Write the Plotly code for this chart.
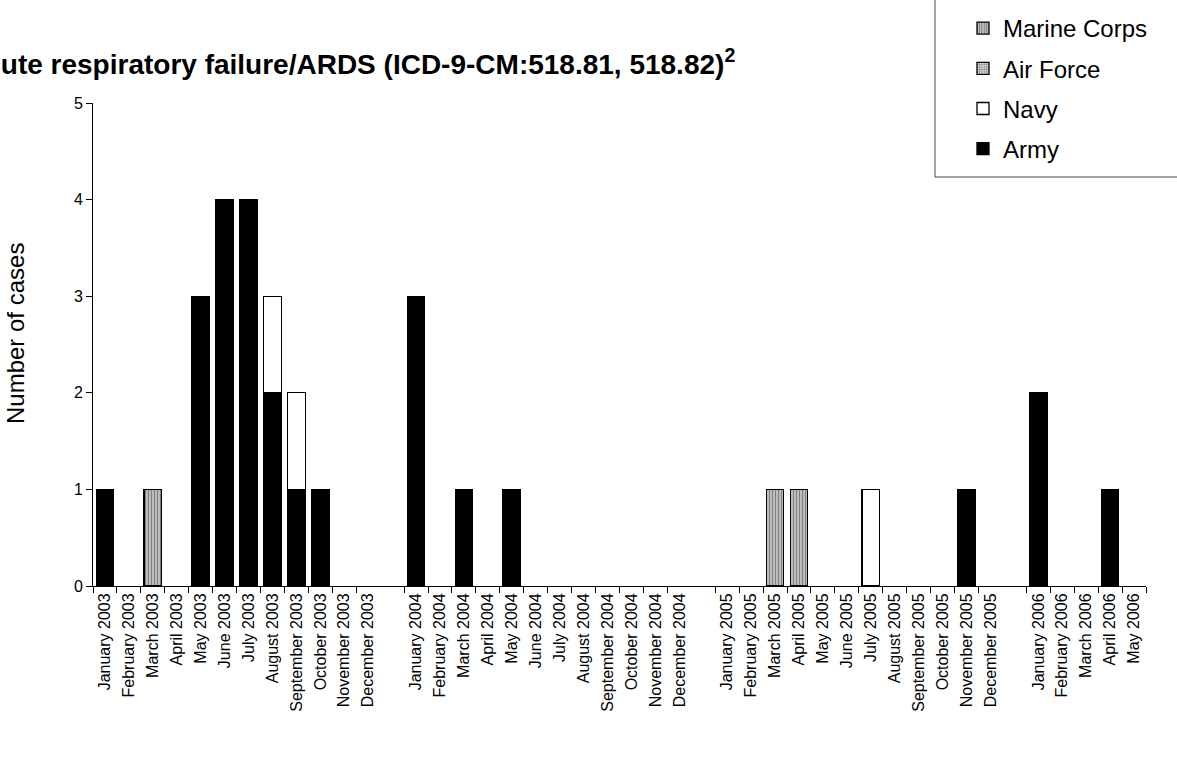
import plotly.graph_objects as go

months = ["January", "February", "March", "April", "May", "June", "July",
          "August", "September", "October", "November", "December"]
categories = ([f"{m} 2003" for m in months] + [" "] +
              [f"{m} 2004" for m in months] + ["  "] +
              [f"{m} 2005" for m in months] + ["   "] +
              [f"{m} 2006" for m in months[:5]])
tick_labels = [c for c in categories if c.strip()]

# values per category (44 categories, including blank spacer slots); None = no cases
army = [1, None, None, None, 3, 4, 4, 2, 1, 1, None, None, None,
        3, None, 1, None, 1, None, None, None, None, None, None, None, None,
        None, None, None, None, None, None, None, None, None, None, 1, None, None,
        2, None, None, 1, None]
navy = [None, None, None, None, None, None, None, 1, 1, None, None, None, None,
        None, None, None, None, None, None, None, None, None, None, None, None, None,
        None, None, None, None, None, None, 1, None, None, None, None, None, None,
        None, None, None, None, None]
air_force = [None] * 44
marine_corps = [None, None, 1, None, None, None, None, None, None, None, None, None, None,
                None, None, None, None, None, None, None, None, None, None, None, None, None,
                None, None, 1, 1, None, None, None, None, None, None, None, None, None,
                None, None, None, None, None]

FONT = "Arial, Liberation Sans, sans-serif"
W, H = 1177, 761
L, R, T, B = 93, 31, 103, 175
pw, ph = W - L - R, H - T - B


def px_x(x):
    return (x - L) / pw


def px_y(y):
    return (H - B - y) / ph


line = dict(color="black", width=1.3)
fig = go.Figure()
fig.add_trace(go.Bar(x=categories, y=army, name="Army", legendgroup="a", legendrank=4,
                     marker=dict(color="black", line=line)))
fig.add_trace(go.Bar(x=categories, y=navy, name="Navy", legendgroup="n", legendrank=3,
                     marker=dict(color="white", line=line)))
fig.add_trace(go.Bar(x=categories, y=air_force, name="Air Force", legendgroup="f", legendrank=2,
                     marker=dict(color="#cccccc", line=line,
                                 pattern=dict(shape="+", fgcolor="#333333",
                                              bgcolor="#dddddd", size=3, solidity=0.45))))
fig.add_trace(go.Bar(x=categories, y=marine_corps, name="Marine Corps", legendgroup="m", legendrank=1,
                     marker=dict(color="#bbbbbb", line=line,
                                 pattern=dict(shape="|", fgcolor="#333333",
                                              bgcolor="#c8c8c8", size=3, solidity=0.45))))

fig.update_layout(
    width=W, height=H,
    barmode="stack", bargap=0.27,
    margin=dict(l=L, r=R, t=T, b=B, autoexpand=False),
    paper_bgcolor="white", plot_bgcolor="white",
    font=dict(family=FONT, color="black", size=16),
    showlegend=True,
    legend=dict(x=px_x(963), y=px_y(6), xanchor="left", yanchor="top",
                traceorder="grouped", font=dict(size=24, family=FONT),
                tracegroupgap=6, bgcolor="rgba(0,0,0,0)", borderwidth=0),
    xaxis=dict(type="category", tickson="boundaries", ticks="outside", ticklen=6,
               tickmode="array", tickvals=tick_labels, ticktext=tick_labels,
               tickcolor="black", showline=True, linecolor="black", linewidth=1,
               tickangle=-90, tickfont=dict(size=16, family=FONT),
               showgrid=False, zeroline=False, range=[-0.5, 43.5]),
    yaxis=dict(range=[0, 5], dtick=1, ticks="outside", ticklen=6, tickcolor="black",
               showline=True, linecolor="black", linewidth=1, showgrid=False,
               zeroline=False, tickfont=dict(size=16, family=FONT)),
    shapes=[dict(type="rect", xref="paper", yref="paper",
                 x0=px_x(935), x1=px_x(1190), y0=px_y(177), y1=px_y(-2),
                 line=dict(color="#444444", width=1), fillcolor="rgba(0,0,0,0)")],
    annotations=[
        dict(text="<b>Acute respiratory failure/ARDS (ICD-9-CM:518.81, 518.82)<sup>2</sup></b>",
             xref="paper", yref="paper", x=px_x(-37), y=px_y(82),
             xanchor="left", yanchor="bottom", showarrow=False,
             font=dict(size=28, family=FONT, color="black")),
        dict(text="Number of cases", textangle=-90,
             xref="paper", yref="paper", x=px_x(15), y=px_y(334),
             xanchor="center", yanchor="middle", showarrow=False,
             font=dict(size=24, family=FONT, color="black")),
    ],
)

fig.write_html("out.html", config={"displayModeBar": False},
               post_script="document.body.style.margin='0';document.body.style.overflow='hidden';")
